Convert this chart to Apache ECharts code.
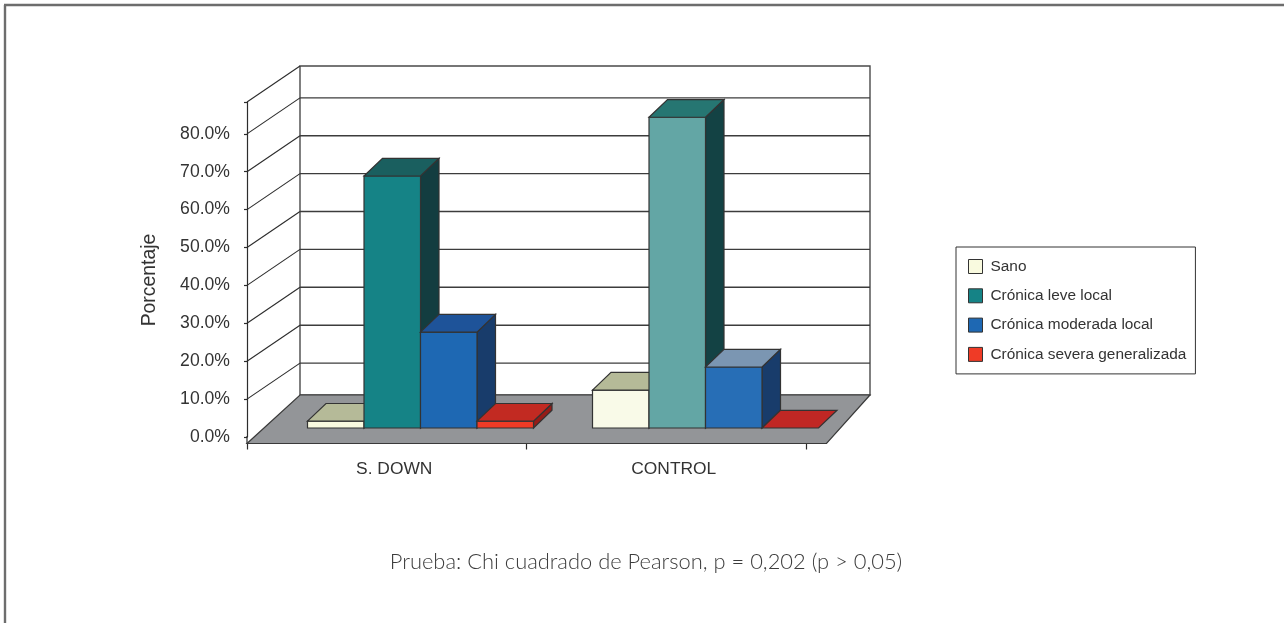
<!DOCTYPE html>
<html><head><meta charset="utf-8">
<style>html,body{margin:0;padding:0;background:#fff}#c{width:1284px;height:623px}</style>
<script src="https://cdn.jsdelivr.net/npm/echarts@6/dist/echarts.min.js"></script>
</head><body><div id="c"></div>
<script>
const categories = ['S. DOWN', 'CONTROL'];
const seriesNames = ['Sano', 'Crónica leve local', 'Crónica moderada local', 'Crónica severa generalizada'];
const sano = [1.8, 10];
const leve = [66.5, 82];
const moderada = [25.3, 16.1];
const severa = [1.8, 0];
const wallTicks = [10, 20, 30, 40, 50, 60, 70, 80];
const caption = 'Prueba: Chi cuadrado de Pearson, p = 0,202 (p > 0,05)';

const AXIS_MAX = 88.4;
const FONT = "'Liberation Sans',Arial,sans-serif";
const LINE = '#333333';
// colours per series: [front, top, side] for each category
const palette = [
  [['#f9fadf', '#b5ba98', '#8f9478'], ['#f9fae8', '#b5ba98', '#8f9478']],
  [['#158386', '#1a5f5f', '#133d40'], ['#63a6a5', '#267672', '#134244']],
  [['#1e68b3', '#1e5399', '#183c6b'], ['#276eb6', '#7b96b2', '#183c6b']],
  [['#ef3b26', '#c22a22', '#951b17'], ['#ef3b26', '#c02724', '#951b17']]
];

function poly(points, fill, stroke, lw) {
  return { type: 'polygon', shape: { points }, style: { fill, stroke: stroke || LINE, lineWidth: lw || 1.2, lineJoin: 'miter' } };
}
function seg(x1, y1, x2, y2, color, lw) {
  return { type: 'line', shape: { x1, y1, x2, y2 }, style: { stroke: color || LINE, lineWidth: lw || 1.2 } };
}

function renderWalls(params, api) {
  const left = api.coord([0, 0])[0] - 139.75;
  const y0 = api.coord([0, 0])[1];
  const yTop = api.coord([0, AXIS_MAX])[1];
  const dx = 53, dy = 36;
  const backL = left + dx, backR = left + 623, floorBack = y0 - 42, floorFront = y0 + 6.5;
  const ch = [];
  ch.push(poly([[backL, yTop - dy], [backR, yTop - dy], [backR, floorBack], [backL, floorBack]], '#ffffff', '#4a4a4a', 1.4));
  wallTicks.forEach(v => {
    const y = api.coord([0, v])[1];
    ch.push(seg(backL, y - dy, backR, y - dy, '#3c3c3c', 1.4));
    ch.push(seg(left, y, backL, y - dy, '#2c2c2c', 1.1));
  });
  ch.push(seg(left, yTop, backL, yTop - dy, '#2c2c2c', 1.1));
  ch.push(seg(left, y0 - 1, left, floorFront, '#2c2c2c', 1.2));
  ch.push(poly([[left, floorFront], [left + 579.5, floorFront], [backR, floorBack], [backL, floorBack]], '#939598', '#3a3a3a', 1.2));
  return { type: 'group', children: ch };
}

function renderBar(params, api) {
  const s = params.seriesIndex - 1;
  const cat = api.value(0), val = api.value(1);
  const band = api.coord([cat, 0])[0];
  const left0 = api.coord([0, 0])[0] - 139.75;
  const w = 56.5, depthX = 18.5, depthY = 17.7;
  const center = 278 + (band - left0) * 1.0197 - 247 + left0;
  const x0 = center - 2 * w + s * w, x1 = x0 + w;
  const yb = api.coord([cat, 0])[1] - 9;
  const yt = yb - (api.coord([cat, 0])[1] - api.coord([cat, val])[1]);
  const c = palette[s][cat];
  const ch = [];
  if (val > 0) {
    ch.push(poly([[x1, yb], [x1 + depthX, yb - depthY], [x1 + depthX, yt - depthY], [x1, yt]], c[2]));
    ch.push(poly([[x0, yb], [x1, yb], [x1, yt], [x0, yt]], c[0]));
  }
  ch.push(poly([[x0, yt], [x1, yt], [x1 + depthX, yt - depthY], [x0 + depthX, yt - depthY]], c[1]));
  return { type: 'group', children: ch };
}

const values = [sano, leve, moderada, severa];
const legendColors = ['#f9fadf', '#158386', '#1e68b3', '#ef3b26'];
const series = [{
  type: 'custom', name: 'walls', coordinateSystem: 'cartesian2d', silent: true,
  renderItem: renderWalls, data: [[0, 0]], encode: { x: 0, y: 1 }, z: 1
}].concat(seriesNames.map((n, i) => ({
  type: 'custom', name: n, coordinateSystem: 'cartesian2d',
  renderItem: renderBar, itemStyle: { color: legendColors[i] },
  data: values[i].map((v, k) => [k, v]), encode: { x: 0, y: 1 }, z: 2 + i
})));

const chart = echarts.init(document.getElementById('c'), null, { renderer: 'canvas' });
chart.setOption({
  animation: false,
  backgroundColor: '#ffffff',
  title: {
    text: caption, left: 641, top: 546, textAlign: 'center',
    textStyle: { fontFamily: 'Lato', fontWeight: 300, fontSize: 21.9, color: '#3c3c3c' }
  },
  legend: {
    data: seriesNames, orient: 'vertical', left: 956, top: 247, icon: 'rect',
    padding: [12, 9, 12, 12], itemGap: 14.3, itemWidth: 14, itemHeight: 14,
    backgroundColor: '#ffffff', borderColor: '#333333', borderWidth: 1,
    itemStyle: { borderColor: '#333333', borderWidth: 1 },
    textStyle: { fontFamily: FONT, fontSize: 15.4, color: '#333333', padding: [0, 0, 0, 3] }
  },
  grid: { left: 247, width: 559, top: 102, height: 335 },
  xAxis: {
    type: 'category', data: categories, offset: 6.5,
    axisLine: { onZero: false, lineStyle: { color: '#3a3a3a', width: 1.2 } },
    axisTick: { show: true, length: 6, lineStyle: { color: '#2c2c2c', width: 1.2 } },
    axisLabel: { margin: 17.5, fontFamily: FONT, fontSize: 17.4, color: '#333333', padding: [0, 0, 0, 15] }
  },
  yAxis: {
    type: 'value', min: 0, max: AXIS_MAX, interval: 10,
    splitLine: { show: false },
    axisLine: { show: true, lineStyle: { color: '#2c2c2c', width: 1.2 } },
    axisTick: { show: true, length: 3, lineStyle: { color: '#2c2c2c', width: 1.2 } },
    axisLabel: {
      margin: 17, fontFamily: FONT, fontSize: 17.6, color: '#333333',
      formatter: v => v > 80 ? '' : v.toFixed(1) + '%'
    }
  },
  graphic: [
    { type: 'line', silent: true, shape: { x1: 5, y1: 623, x2: 5, y2: 5 }, style: { stroke: '#6d6d6d', lineWidth: 2.4 } },
    { type: 'line', silent: true, shape: { x1: 4, y1: 5, x2: 1284, y2: 5 }, style: { stroke: '#6d6d6d', lineWidth: 2.4 } },
    { type: 'text', silent: true, x: 150, y: 280, rotation: Math.PI / 2,
      style: { text: 'Porcentaje', fontFamily: FONT, fontSize: 19.4, fill: '#333333', textAlign: 'center', textVerticalAlign: 'middle' } }
  ],
  series
});
</script></body></html>
